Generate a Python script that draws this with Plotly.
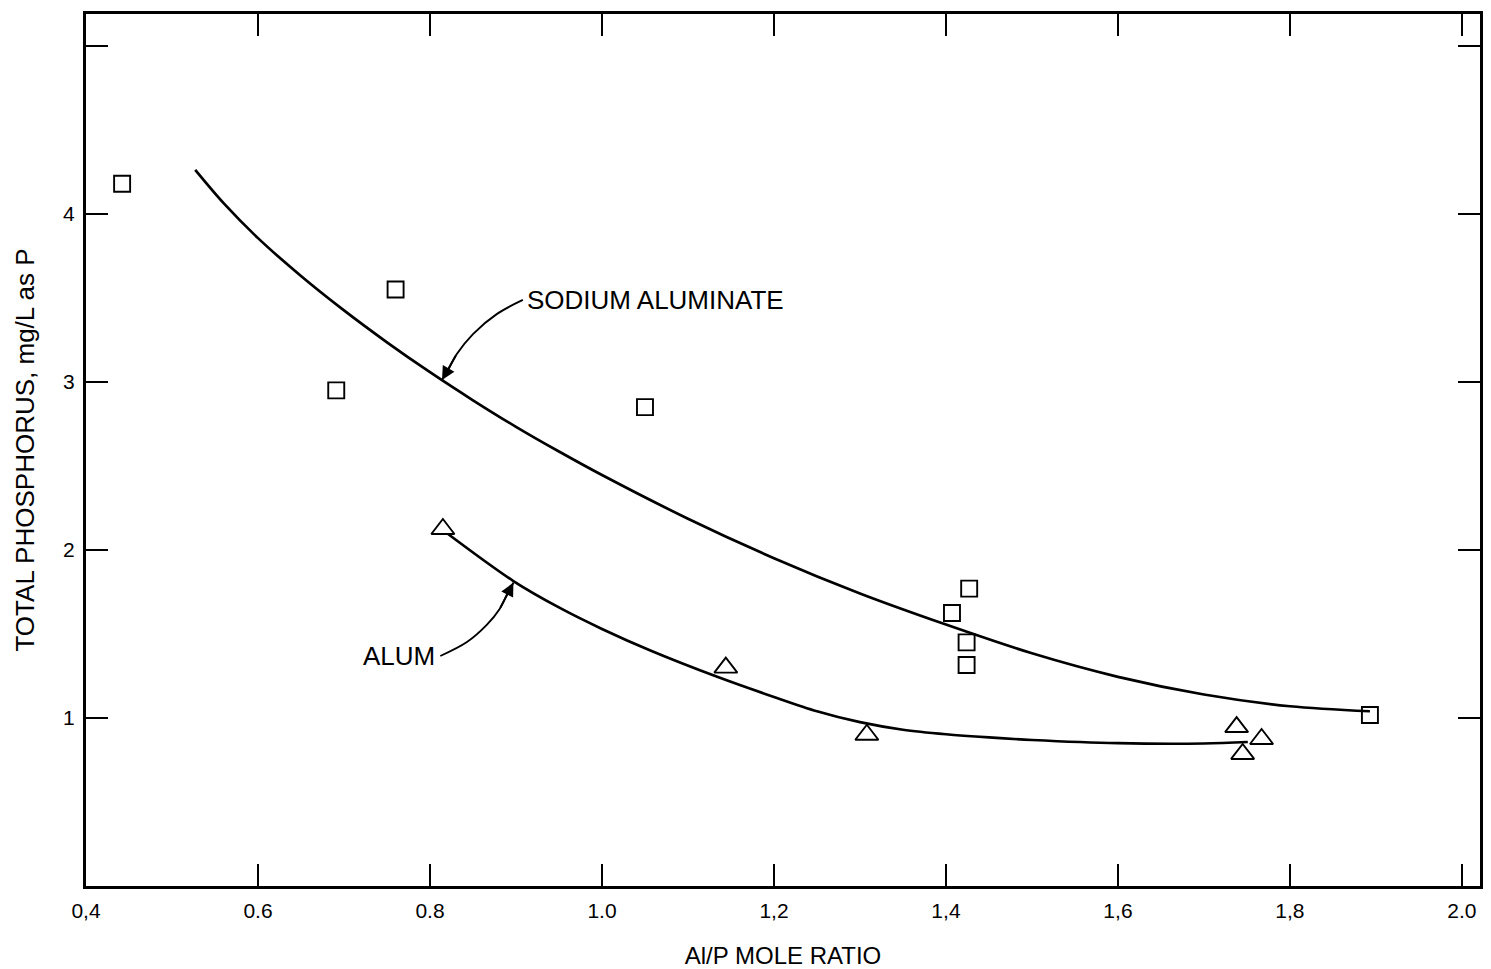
import plotly.graph_objects as go

# ---- data ----
sodium_x = [0.442, 0.691, 0.760, 1.050, 1.407, 1.427, 1.424, 1.424, 1.893]
sodium_y = [4.18, 2.95, 3.55, 2.85, 1.625, 1.77, 1.45, 1.315, 1.018]

alum_x = [0.815, 1.144, 1.308, 1.738, 1.745, 1.767]
alum_y = [2.125, 1.30, 0.90, 0.946, 0.786, 0.875]

sodium_curve_x = [0.527, 0.56, 0.60, 0.65, 0.70, 0.75, 0.80, 0.85, 0.90, 0.95, 1.00,
                  1.10, 1.20, 1.30, 1.40, 1.50, 1.60, 1.70, 1.80, 1.893]
sodium_curve_y = [4.262, 4.064, 3.856, 3.631, 3.426, 3.236, 3.058, 2.891, 2.733, 2.586, 2.446,
                  2.186, 1.951, 1.741, 1.556, 1.385, 1.245, 1.140, 1.070, 1.040]

alum_curve_x = [0.821, 0.897, 0.951, 1.000, 1.057, 1.134, 1.20, 1.25, 1.30, 1.35, 1.40,
                1.45, 1.50, 1.60, 1.70, 1.751]
alum_curve_y = [2.095, 1.815, 1.655, 1.530, 1.400, 1.245, 1.125, 1.040, 0.975, 0.930, 0.903,
                0.884, 0.869, 0.850, 0.848, 0.857]

# label leader curves (curved arrows)
sodium_arrow_x = [0.908, 0.878, 0.850, 0.831, 0.820, 0.814]
sodium_arrow_y = [3.488, 3.405, 3.285, 3.165, 3.062, 3.012]
alum_arrow_x = [0.812, 0.843, 0.866, 0.881, 0.891, 0.897]
alum_arrow_y = [1.369, 1.452, 1.554, 1.649, 1.750, 1.805]

x_tickvals = [0.4, 0.6, 0.8, 1.0, 1.2, 1.4, 1.6, 1.8, 2.0]
x_ticktext = ["0,4", "0.6", "0.8", "1.0", "1,2", "1,4", "1,6", "1,8", "2.0"]
y_tickvals = [1, 2, 3, 4, 5]
y_ticktext = ["1", "2", "3", "4", ""]

FONT = "Liberation Sans, Arial, sans-serif"

fig = go.Figure()

for cx, cy in ((sodium_curve_x, sodium_curve_y), (alum_curve_x, alum_curve_y)):
    fig.add_trace(go.Scatter(x=cx, y=cy, mode="lines",
                             line=dict(color="black", width=2.7, shape="spline", smoothing=0.9),
                             showlegend=False, hoverinfo="skip"))
for cx, cy in ((sodium_arrow_x, sodium_arrow_y), (alum_arrow_x, alum_arrow_y)):
    fig.add_trace(go.Scatter(x=cx, y=cy, mode="lines",
                             line=dict(color="black", width=1.9, shape="spline"),
                             showlegend=False, hoverinfo="skip"))

fig.add_trace(go.Scatter(x=sodium_x, y=sodium_y, mode="markers", name="Sodium aluminate",
                         marker=dict(symbol="square-open", size=16, color="black",
                                     line=dict(width=1.9, color="black")),
                         showlegend=False))
fig.add_trace(go.Scatter(x=alum_x, y=alum_y, mode="markers", name="Alum",
                         marker=dict(symbol="triangle-up-open", size=20, color="black",
                                     line=dict(width=1.9, color="black")),
                         showlegend=False))

# arrowheads at end of leader curves
for ax_, ay_ in ((sodium_arrow_x, sodium_arrow_y), (alum_arrow_x, alum_arrow_y)):
    fig.add_annotation(x=ax_[-1], y=ay_[-1], ax=ax_[-3], ay=ay_[-3],
                       xref="x", yref="y", axref="x", ayref="y",
                       text="", showarrow=True, arrowhead=2, arrowsize=1.4,
                       arrowwidth=1.9, arrowcolor="black")

fig.add_annotation(x=sodium_arrow_x[0], y=sodium_arrow_y[0], text="SODIUM ALUMINATE",
                   showarrow=False, xanchor="left", yanchor="middle", xshift=2,
                   font=dict(family=FONT, size=26, color="black"))
fig.add_annotation(x=alum_arrow_x[0], y=alum_arrow_y[0], text="ALUM",
                   showarrow=False, xanchor="right", yanchor="middle", xshift=-3,
                   font=dict(family=FONT, size=26, color="black"))

fig.update_xaxes(range=[0.4, 2.021], tickvals=x_tickvals, ticktext=x_ticktext,
                 ticks="inside", ticklen=22, tickwidth=2, tickcolor="black",
                 showline=True, linewidth=3, linecolor="black", mirror="ticks",
                 showgrid=False, zeroline=False, automargin=False,
                 ticklabelstandoff=4,
                 tickfont=dict(family=FONT, size=21, color="black"),
                 title=dict(text="Al/P MOLE RATIO", standoff=27,
                            font=dict(family=FONT, size=24, color="black")))
fig.update_yaxes(range=[0, 5.19], tickvals=y_tickvals, ticktext=y_ticktext,
                 ticks="inside", ticklen=22, tickwidth=2, tickcolor="black",
                 showline=True, linewidth=3, linecolor="black", mirror="ticks",
                 showgrid=False, zeroline=False, automargin=False,
                 ticklabelstandoff=4,
                 tickfont=dict(family=FONT, size=21, color="black"),
                 title=dict(text="TOTAL PHOSPHORUS, mg/L as P", standoff=22,
                            font=dict(family=FONT, size=26, color="black")))

# page body has an 8px margin, so the figure is sized/offset to fit the window
fig.update_layout(width=1483, height=961,
                  margin=dict(l=78, r=11, t=6, b=83),
                  paper_bgcolor="white", plot_bgcolor="white",
                  showlegend=False)

fig.write_html("out.html")
